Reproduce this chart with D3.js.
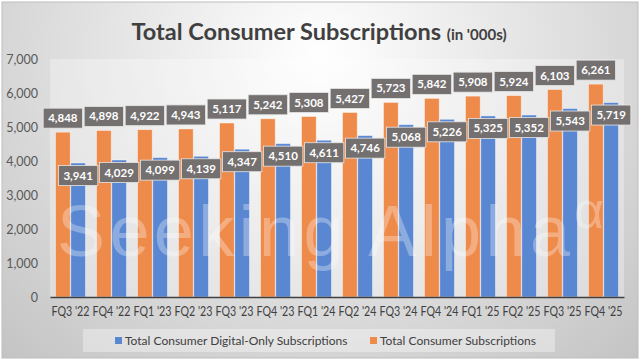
<!DOCTYPE html>
<html><head><meta charset="utf-8">
<script src="https://cdn.jsdelivr.net/npm/d3@7"></script>
<style>html,body{margin:0;padding:0;background:#fff;}svg{display:block;}</style>
</head><body>
<svg id="c" width="640" height="360"></svg>
<script>
const categories = ["FQ3 '22","FQ4 '22","FQ1 '23","FQ2 '23","FQ3 '23","FQ4 '23","FQ1 '24","FQ2 '24","FQ3 '24","FQ4 '24","FQ1 '25","FQ2 '25","FQ3 '25","FQ4 '25"];
const totalSubs = [4848,4898,4922,4943,5117,5242,5308,5427,5723,5842,5908,5924,6103,6261];
const digitalSubs = [3941,4029,4099,4139,4347,4510,4611,4746,5068,5226,5325,5352,5543,5719];
const yTicks = [0,1000,2000,3000,4000,5000,6000,7000];
const seriesNames = ["Total Consumer Digital-Only Subscriptions","Total Consumer Subscriptions"];

const W = 640, H = 360;
const m = {l:50, r:16, t:59, b:63};
const svg = d3.select("#c");
const defs = svg.append("defs");
const rg = defs.append("radialGradient").attr("id","bg").attr("cx","50%").attr("cy","15%").attr("r","75%")
  .attr("gradientTransform","translate(0.5,0.15) scale(1,1.6) translate(-0.5,-0.15)");
rg.append("stop").attr("offset","0%").attr("stop-color","#ffffff");
rg.append("stop").attr("offset","100%").attr("stop-color","#c2c2c2");

svg.append("rect").attr("width",W).attr("height",H).attr("fill","#ffffff");
svg.append("rect").attr("x",2).attr("y",2).attr("width",W-4).attr("height",H-4)
  .attr("fill","url(#bg)").attr("stroke","#bdbdbd").attr("stroke-width",1);

const x0 = d3.scaleBand().domain(categories).range([m.l, W-m.r]).paddingInner(0.27).paddingOuter(0.135);
const x1 = d3.scaleBand().domain(["total","digital"]).range([0, x0.bandwidth()]).paddingInner(0.04);
const y = d3.scaleLinear().domain([0,7000]).range([H-m.b, m.t]);

svg.append("rect").attr("x",m.l).attr("y",m.t).attr("width",W-m.r-m.l).attr("height",H-m.b-m.t)
  .attr("fill","#ffffff").attr("opacity",0.3);

const yAxis = d3.axisLeft(y).tickValues(yTicks).tickFormat(d3.format(",")).tickSize(0).tickPadding(12);
const ya = svg.append("g").attr("transform",`translate(${m.l},0)`).call(yAxis);
ya.select(".domain").remove();
ya.selectAll("text").attr("font-family","Lato, sans-serif").attr("font-size",12.5).attr("fill","#595959");

const colors = {total:"#EE8A4A", digital:"#5A87D2"};
const data = categories.map((c,i)=>({cat:c, total:totalSubs[i], digital:digitalSubs[i]}));

const groups = svg.append("g").selectAll("g").data(data).join("g")
  .attr("transform",d=>`translate(${x0(d.cat)},0)`);
groups.selectAll("rect").data(d=>["total","digital"].map(k=>({k, v:d[k]}))).join("rect")
  .attr("x",d=>x1(d.k)).attr("width",x1.bandwidth())
  .attr("y",d=>y(d.v)).attr("height",d=>y(0)-y(d.v))
  .attr("fill",d=>colors[d.k]).attr("stroke","#ffffff").attr("stroke-opacity",0.5).attr("stroke-width",0.8);

const xAxis = d3.axisBottom(x0).tickSize(0).tickPadding(10);
const xa = svg.append("g").attr("transform",`translate(0,${y(0)})`).call(xAxis);
xa.select(".domain").attr("stroke","#404040").attr("stroke-width",1.5);
xa.selectAll("text").attr("font-family","Lato, sans-serif").attr("font-size",12.5).attr("fill","#404040")
  .attr("textLength",38).attr("lengthAdjust","spacingAndGlyphs");

const wm = svg.append("g").attr("fill","#ffffff").attr("opacity",0.3).attr("font-family","'Liberation Sans', Arial, sans-serif");
wm.append("text").attr("x",57).attr("y",256).attr("font-size",72).attr("textLength",513).attr("lengthAdjust","spacing").text("Seeking Alpha");
wm.append("text").attr("x",574).attr("y",228).attr("font-size",52).text("α");

const fmt = d3.format(",");
const labG = svg.append("g").attr("font-family","Lato, sans-serif").attr("font-weight","bold").attr("font-size",11.5);
function addLabel(cx, cy, txt){
  const g = labG.append("g");
  const t = g.append("text").attr("x",cx).attr("y",cy).attr("dy","0.35em").attr("text-anchor","middle").attr("fill","#ffffff").text(txt);
  const w = t.node().getComputedTextLength();
  g.insert("rect","text").attr("x",cx-w/2-5).attr("y",cy-10).attr("width",w+10).attr("height",20)
    .attr("fill","#747070").attr("stroke","#e6e6e6").attr("stroke-width",0.8);
}
data.forEach(d=>{
  addLabel(x0(d.cat)+x1("total")+x1.bandwidth()/2, y(d.total)-14, fmt(d.total));
});
data.forEach(d=>{
  addLabel(x0(d.cat)+x1("digital")+x1.bandwidth()/2, y(d.digital)+12.5, fmt(d.digital));
});

const title = svg.append("text").attr("x",319).attr("y",40).attr("text-anchor","middle")
  .attr("font-family","Lato, sans-serif").attr("font-weight","bold").attr("fill","#404040");
title.append("tspan").attr("font-size",23.5).text("Total Consumer Subscriptions ");
title.append("tspan").attr("font-size",15).text("(in '000s)");

const lg = svg.append("g");
lg.append("rect").attr("x",83).attr("y",329).attr("width",472).attr("height",23).attr("fill","#ffffff").attr("opacity",0.35);
const legItems = [{name:seriesNames[0], c:colors.digital, x:115},{name:seriesNames[1], c:colors.total, x:370}];
legItems.forEach(it=>{
  lg.append("rect").attr("x",it.x).attr("y",337).attr("width",7).attr("height",7).attr("fill",it.c);
  lg.append("text").attr("x",it.x+10).attr("y",340.5).attr("dy","0.35em").attr("font-family","Lato, sans-serif")
    .attr("font-size",12).attr("fill","#404040").text(it.name);
});
</script>
</body></html>
